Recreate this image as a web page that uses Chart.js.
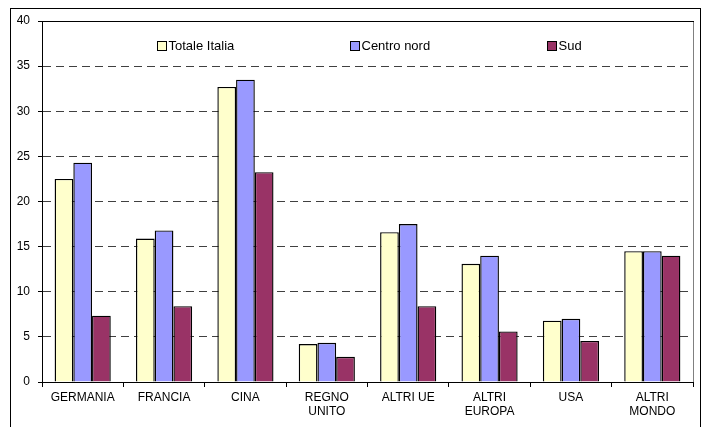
<!DOCTYPE html>
<html>
<head>
<meta charset="utf-8">
<script src="https://cdn.jsdelivr.net/npm/chart.js@4/dist/chart.umd.min.js"></script>
<style>
  html, body { margin: 0; padding: 0; background: #fff; }
  #wrap { width: 713px; height: 427px; }
</style>
</head>
<body>
<div id="wrap"><canvas id="chart" width="713" height="427"></canvas></div>
<script>
// Dati
const categorie = [
    'GERMANIA', 'FRANCIA', 'CINA', ['REGNO', 'UNITO'],
    'ALTRI UE', ['ALTRI', 'EUROPA'], 'USA', ['ALTRI', 'MONDO']
];
const totaleItalia = [22.5, 15.9, 32.7, 4.2, 16.6, 13.1, 6.8, 14.5];
const centroNord   = [24.3, 16.8, 33.5, 4.35, 17.5, 14.0, 7.0, 14.5];
const sud          = [7.35, 8.4, 23.25, 2.8, 8.4, 5.6, 4.55, 14.0];
const tickY = [0, 5, 10, 15, 20, 25, 30, 35, 40];

Chart.defaults.font.family = '"Liberation Sans", Arial, sans-serif';
Chart.defaults.color = '#000';

// cornice esterna + bordo area del grafico
const cornice = {
    id: 'cornice',
    beforeDraw(chart) {
        const c = chart.ctx;
        c.save();
        c.fillStyle = '#fff';
        c.fillRect(0, 0, chart.width, chart.height);
        c.strokeStyle = '#000';
        c.lineWidth = 1;
        c.strokeRect(10.5, 8.5, 690, 440);
        c.restore();
    },
    afterDatasetsDraw(chart) {
        const a = chart.chartArea;
        const c = chart.ctx;
        c.save();
        c.lineWidth = 1;
        c.strokeStyle = '#808080';
        c.beginPath();
        c.moveTo(Math.round(a.right) + 0.5, Math.round(a.bottom));
        c.lineTo(Math.round(a.right) + 0.5, Math.round(a.top) + 0.5);
        c.stroke();
        c.strokeStyle = '#000';
        c.beginPath();
        c.moveTo(Math.round(a.left), Math.round(a.top) + 0.5);
        c.lineTo(Math.round(a.right) + 1, Math.round(a.top) + 0.5);
        c.stroke();
        c.restore();
    }
};

// legenda dentro l'area del grafico
const legendaInterna = {
    id: 'legendaInterna',
    afterDraw(chart) {
        const a = chart.chartArea;
        const c = chart.ctx;
        const pos = [0.177, 0.473, 0.775];
        c.save();
        c.font = '13px "Liberation Sans", Arial, sans-serif';
        c.textBaseline = 'middle';
        chart.data.datasets.forEach((ds, i) => {
            const x = Math.round(a.left + pos[i] * (a.right - a.left)) + 0.5;
            const y = 41.5;
            c.fillStyle = ds.backgroundColor;
            c.fillRect(x, y, 9, 9);
            c.strokeStyle = '#000';
            c.lineWidth = 1;
            c.strokeRect(x, y, 9, 9);
            c.fillStyle = '#000';
            c.fillText(ds.label, x + 11, y + 5);
        });
        c.restore();
    }
};

new Chart(document.getElementById('chart'), {
    type: 'bar',
    data: {
        labels: categorie,
        datasets: [
            { label: 'Totale Italia', data: totaleItalia, backgroundColor: '#FFFFCC' },
            { label: 'Centro nord', data: centroNord, backgroundColor: '#9999FF' },
            { label: 'Sud', data: sud, backgroundColor: '#993366' }
        ].map(d => Object.assign(d, {
            borderColor: '#000',
            borderWidth: 1.4,
            borderSkipped: 'bottom',
            categoryPercentage: 0.69,
            barPercentage: 1
        }))
    },
    options: {
        responsive: false,
        animation: false,
        layout: { padding: { left: 0, top: 21, right: 20, bottom: 0 } },
        plugins: {
            legend: { display: false },
            tooltip: { enabled: false }
        },
        scales: {
            x: {
                afterFit: s => { s.height = 45; },
                border: { display: true, color: '#000', width: 1 },
                grid: {
                    offset: true,
                    drawOnChartArea: false,
                    drawTicks: true,
                    tickLength: 5,
                    tickColor: '#000'
                },
                ticks: {
                    maxRotation: 0,
                    autoSkip: false,
                    padding: 3,
                    font: { size: 12 }
                }
            },
            y: {
                min: 0,
                max: 40,
                afterFit: s => { s.width = 42; },
                afterBuildTicks: s => { s.ticks = tickY.map(v => ({ value: v })); },
                border: { display: true, color: '#000', width: 1, dash: [8, 5] },
                grid: {
                    color: ctx => (ctx.tick.value === 0 || ctx.tick.value === 40) ? 'rgba(0,0,0,0)' : '#404040',
                    drawTicks: true,
                    tickLength: 4,
                    tickColor: '#000',
                    tickBorderDash: [1, 0]
                },
                ticks: {
                    padding: 8,
                    font: { size: 12 }
                }
            }
        }
    },
    plugins: [cornice, legendaInterna]
});
</script>
</body>
</html>
